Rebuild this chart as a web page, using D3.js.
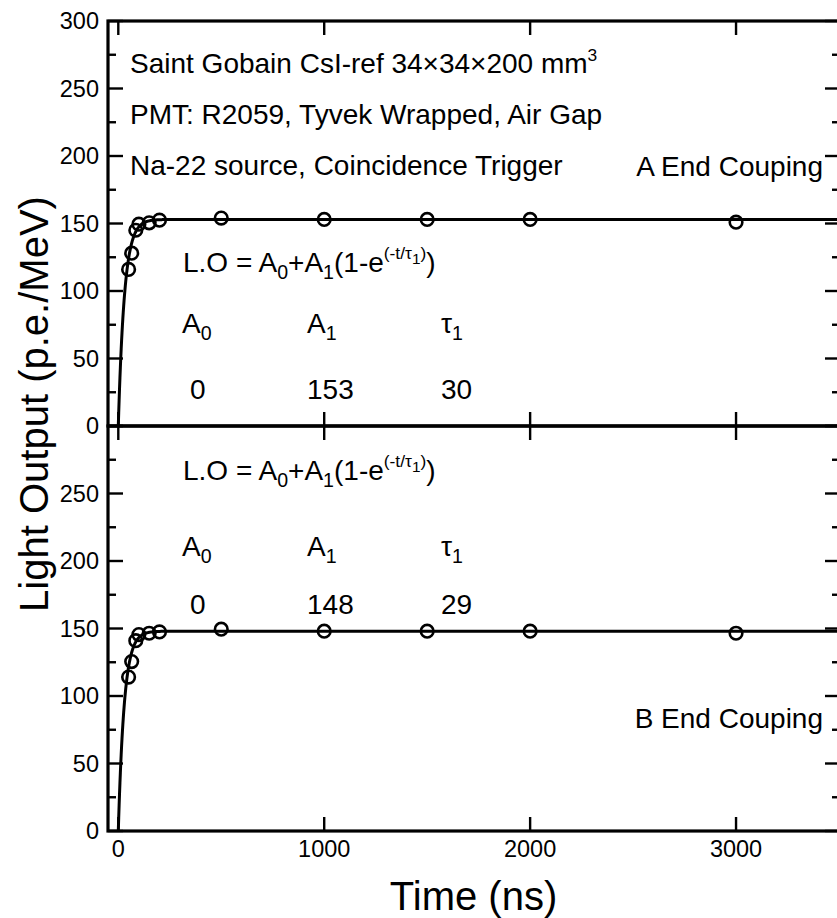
<!DOCTYPE html>
<html>
<head>
<meta charset="utf-8">
<script src="https://cdn.jsdelivr.net/npm/d3@7"></script>
<style>
  html, body { margin: 0; padding: 0; background: #fff; }
  svg text { font-family: "Liberation Sans", Arial, sans-serif; fill: #000; }
</style>
</head>
<body>
<svg id="chart" width="837" height="918"></svg>
<script>
// Integration gate (ns) and measured light output (p.e./MeV)
const gateA = [50, 65, 85, 100, 150, 200, 500, 1000, 1500, 2000, 3000];
const lightA = [116, 128, 145, 149.5, 150.5, 152.5, 154, 153, 153, 153, 151];
const gateB = [50, 65, 85, 100, 150, 200, 500, 1000, 1500, 2000, 3000];
const lightB = [114, 125.5, 141, 145.5, 146.5, 147.5, 149.5, 148, 148, 148, 146.5];

// Fit parameters: L.O = A0 + A1(1 - exp(-t/tau1))
const fitA = { A0: 0, A1: 153, tau: 30 };
const fitB = { A0: 0, A1: 148, tau: 29 };

const xTicks = [0, 1000, 2000, 3000];
const yTicksMajor = [0, 50, 100, 150, 200, 250, 300];
const yTicksMinor = [25, 75, 125, 175, 225, 275];

const infoLines = [
  "Saint Gobain CsI-ref 34\u00d734\u00d7200 mm",
  "PMT: R2059, Tyvek Wrapped, Air Gap",
  "Na-22 source, Coincidence Trigger"
];

const svg = d3.select("#chart");
const L = 108, R = 839, T = 21, M = 426, B = 831;

const x = d3.scaleLinear().domain([-50, 3500]).range([L, R]);
const yTop = d3.scaleLinear().domain([0, 300]).range([M, T]);
const yBot = d3.scaleLinear().domain([0, 300]).range([B, M]);

const tickFont = 23.5;

// Fit curves, sampled along the time axis
const tSamples = d3.range(0, 3501, 2);
function fitLine(fit, y) {
  return d3.line()
    .x(t => x(t))
    .y(t => y(fit.A0 + fit.A1 * (1 - Math.exp(-t / fit.tau))))(tSamples);
}

const plot = svg.append("g");
plot.append("path").attr("d", fitLine(fitA, yTop))
  .attr("fill", "none").attr("stroke", "#000").attr("stroke-width", 3);
plot.append("path").attr("d", fitLine(fitB, yBot))
  .attr("fill", "none").attr("stroke", "#000").attr("stroke-width", 3);

function drawPoints(gates, vals, y) {
  plot.selectAll(null).data(d3.zip(gates, vals)).enter().append("circle")
    .attr("cx", d => x(d[0])).attr("cy", d => y(d[1])).attr("r", 6.3)
    .attr("fill", "none").attr("stroke", "#000").attr("stroke-width", 2.6);
}
drawPoints(gateA, lightA, yTop);
drawPoints(gateB, lightB, yBot);

// Axes: inward ticks on all four sides of each panel
function panelAxes(y, labelTop) {
  const g = svg.append("g");
  const tick = (x1, y1, x2, y2) => g.append("line")
    .attr("x1", x1).attr("y1", y1).attr("x2", x2).attr("y2", y2)
    .attr("stroke", "#000").attr("stroke-width", 2.4);
  const y0 = y.range()[0], y1 = y.range()[1];
  yTicksMajor.forEach(v => {
    tick(L, y(v), L + 15, y(v));
    tick(R, y(v), R - 14, y(v));
  });
  yTicksMinor.forEach(v => {
    tick(L, y(v), L + 8, y(v));
    tick(R, y(v), R - 7, y(v));
  });
  xTicks.forEach(v => {
    tick(x(v), y0, x(v), y0 - 14);
    tick(x(v), y1, x(v), y1 + 14);
  });
  const labels = yTicksMajor.filter(v => labelTop || v < 300);
  g.selectAll(null).data(labels).enter().append("text")
    .attr("x", L - 9).attr("y", d => y(d)).attr("dy", "0.36em")
    .attr("text-anchor", "end").attr("font-size", tickFont).text(d => d);
  // frame
  g.append("rect").attr("x", L).attr("y", y1).attr("width", R - L).attr("height", y0 - y1)
    .attr("fill", "none").attr("stroke", "#000").attr("stroke-width", 3.2);
}
panelAxes(yTop, true);
panelAxes(yBot, false);

svg.append("g").selectAll(null).data(xTicks).enter().append("text")
  .attr("x", d => x(d)).attr("y", B + 26).attr("text-anchor", "middle")
  .attr("font-size", tickFont).text(d => d);

// Axis titles
svg.append("text").attr("x", (L + R) / 2).attr("y", 910).attr("text-anchor", "middle")
  .attr("font-size", 40).text("Time (ns)");
svg.append("text").attr("transform", `translate(48,404) rotate(-90)`).attr("text-anchor", "middle")
  .attr("font-size", 40).text("Light Output (p.e./MeV)");

// Rich text with sub/superscripts: segments of [text, shift(px), scale]
function rich(xp, yp, size, segs, anchor) {
  const t = svg.append("text").attr("x", xp).attr("y", yp).attr("font-size", size)
    .attr("text-anchor", anchor || "start");
  let cur = 0;
  segs.forEach(([s, sh, sc]) => {
    t.append("tspan").attr("dy", sh - cur).attr("font-size", size * (sc || 1)).text(s);
    cur = sh;
  });
  return t;
}

const textSize = 28;
rich(130, 73, textSize, [[infoLines[0], 0], ["3", -12, 0.62]]);
rich(130, 124, textSize, [[infoLines[1], 0]]);
rich(130, 175, textSize, [[infoLines[2], 0]]);
rich(823, 176, textSize, [["A End Couping", 0]], "end");
rich(823, 728, textSize, [["B End Couping", 0]], "end");

function formula(yp) {
  rich(183, yp, textSize, [
    ["L.O = A", 0], ["0", 7, 0.7], ["+A", 0], ["1", 7, 0.7], ["(1-e", 0],
    ["(-t/\u03c4", -13, 0.62], ["1", -8, 0.55], [")", -13, 0.62], [")", 0]
  ]);
}
function paramTable(fit, yHead, yVal) {
  const cols = [182, 307, 441];
  rich(cols[0], yHead, textSize, [["A", 0], ["0", 7, 0.7]]);
  rich(cols[1], yHead, textSize, [["A", 0], ["1", 7, 0.7]]);
  rich(cols[2], yHead, textSize, [["\u03c4", 0], ["1", 7, 0.7]]);
  rich(cols[0] + 8, yVal, textSize, [[String(fit.A0), 0]]);
  rich(cols[1], yVal, textSize, [[String(fit.A1), 0]]);
  rich(cols[2], yVal, textSize, [[String(fit.tau), 0]]);
}
formula(272);
paramTable(fitA, 333, 399);
formula(480);
paramTable(fitB, 556, 614);
</script>
</body>
</html>
